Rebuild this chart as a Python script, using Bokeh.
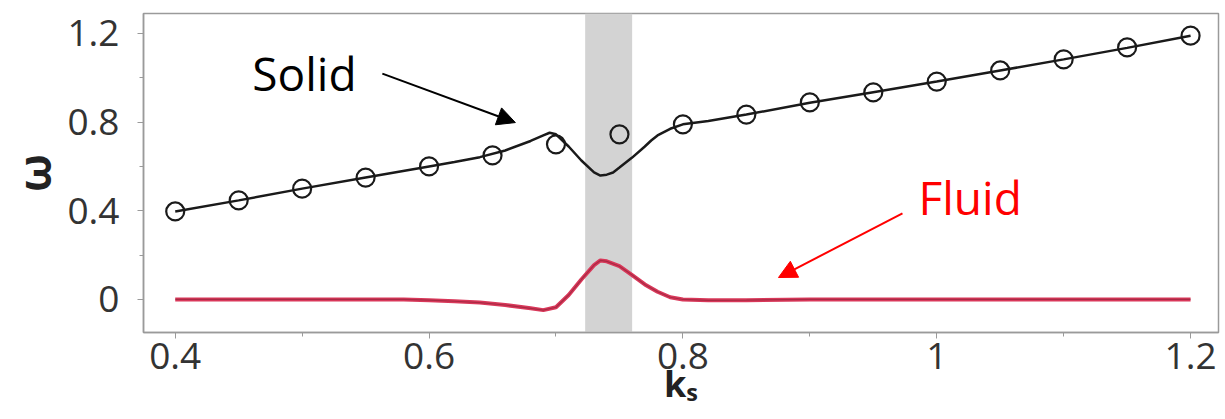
from bokeh.plotting import figure
from bokeh.models import (Range1d, BoxAnnotation, Label, Arrow, NormalHead,
                          SingleIntervalTicker, NumeralTickFormatter)
from bokeh.embed import file_html
from bokeh.resources import INLINE

# ---- data ----
# continuous solid-branch curve
solid_k = [0.40, 0.45, 0.50, 0.55, 0.60, 0.62, 0.64, 0.66, 0.68, 0.69, 0.695, 0.70,
           0.71, 0.72, 0.73, 0.735, 0.74, 0.745, 0.75, 0.76, 0.77, 0.775, 0.78, 0.79,
           0.80, 0.82, 0.85, 0.90, 0.95, 1.00, 1.05, 1.10, 1.15, 1.20]
solid_w = [0.397, 0.447, 0.500, 0.550, 0.600, 0.620, 0.642, 0.672, 0.715, 0.740, 0.752, 0.745,
           0.690, 0.627, 0.573, 0.559, 0.563, 0.573, 0.595, 0.640, 0.690, 0.717, 0.740, 0.770,
           0.790, 0.805, 0.834, 0.887, 0.935, 0.983, 1.033, 1.083, 1.135, 1.190]

# circle markers
circle_k = [0.40, 0.45, 0.50, 0.55, 0.60, 0.65, 0.70, 0.75, 0.80, 0.85, 0.90, 0.95,
            1.00, 1.05, 1.10, 1.15, 1.20]
circle_w = [0.397, 0.447, 0.500, 0.550, 0.600, 0.650, 0.700, 0.745, 0.790, 0.834, 0.889,
            0.934, 0.983, 1.033, 1.083, 1.137, 1.190]

# fluid-branch curve
fluid_k = [0.40, 0.45, 0.50, 0.55, 0.58, 0.60, 0.62, 0.64, 0.66, 0.68, 0.69, 0.70,
           0.71, 0.72, 0.73, 0.735, 0.74, 0.75, 0.76, 0.77, 0.78, 0.79, 0.80, 0.82,
           0.85, 0.90, 1.00, 1.10, 1.20]
fluid_w = [0.000, 0.000, 0.000, 0.000, 0.000, -0.003, -0.008, -0.014, -0.025, -0.040, -0.048, -0.035,
           0.020, 0.090, 0.155, 0.176, 0.172, 0.150, 0.110, 0.068, 0.035, 0.010, 0.000, -0.004,
           -0.003, 0.000, 0.000, 0.000, 0.000]

band_k = [0.723, 0.760]

FONT = "Open Sans"
AXIS_COLOR = "#9a9a9a"

p = figure(width=1222, height=416, output_backend="svg", toolbar_location=None,
           x_range=Range1d(0.375, 1.222), y_range=Range1d(-0.149, 1.29),
           min_border_left=143, min_border_top=13, min_border_right=4, min_border_bottom=84)

p.xgrid.visible = False
p.ygrid.visible = False
p.outline_line_color = AXIS_COLOR
p.outline_line_width = 1.5
p.background_fill_color = "white"
p.border_fill_color = "white"

# shaded band
p.add_layout(BoxAnnotation(left=band_k[0], right=band_k[1], fill_color="#d3d3d3",
                           fill_alpha=1.0, line_color=None, level="underlay"))

# solid curve + markers
p.line(solid_k, solid_w, line_color="#1a1a1a", line_width=2.5)
p.scatter(circle_k, circle_w, marker="circle", size=18, fill_color=None,
          line_color="#1a1a1a", line_width=2.2)

# fluid curve
p.line(fluid_k, fluid_w, line_color="#d9385a", line_width=4)
p.line(fluid_k, fluid_w, line_color="#6e1a2a", line_width=1.2, line_alpha=0.45)

# axes
for ax in (p.xaxis[0], p.yaxis[0]):
    ax.axis_line_color = AXIS_COLOR
    ax.axis_line_width = 1.5
    ax.major_tick_line_color = AXIS_COLOR
    ax.minor_tick_line_color = AXIS_COLOR
    ax.major_tick_out = 6
    ax.major_tick_in = 0
    ax.minor_tick_out = 4
    ax.minor_tick_in = 0
    ax.major_label_text_font = FONT
    ax.major_label_text_font_size = "37px"
    ax.major_label_text_color = "#333333"
    ax.axis_label_text_font = FONT
    ax.axis_label_text_font_style = "bold"
    ax.axis_label_text_color = "#222222"
    ax.formatter = NumeralTickFormatter(format="0.[0]")

p.xaxis[0].ticker = SingleIntervalTicker(interval=0.2, num_minor_ticks=2)
p.yaxis[0].ticker = SingleIntervalTicker(interval=0.4, num_minor_ticks=2)
p.xaxis[0].major_label_standoff = 4
p.xaxis[0].axis_label = "kₛ"
p.xaxis[0].axis_label_text_font_size = "36px"
p.xaxis[0].axis_label_standoff = -13
p.yaxis[0].major_label_standoff = 18
p.yaxis[0].axis_label = "ω"
p.yaxis[0].axis_label_text_font_size = "44px"
p.yaxis[0].axis_label_standoff = 0

# annotations
p.add_layout(Label(x=0.4607, y=1.022, text="Solid", text_font=FONT, text_font_size="46px",
                   text_color="black", text_baseline="alphabetic"))
p.add_layout(Arrow(x_start=0.5632, y_start=1.019, x_end=0.668, y_end=0.798,
                   line_color="black", line_width=2,
                   end=NormalHead(size=18, fill_color="black", line_color="black")))
p.add_layout(Label(x=0.9856, y=0.462, text="Fluid", text_font=FONT, text_font_size="46px",
                   text_color="#ff0000", text_baseline="alphabetic"))
p.add_layout(Arrow(x_start=0.973, y_start=0.388, x_end=0.8753, y_end=0.099,
                   line_color="#ff0000", line_width=2,
                   end=NormalHead(size=18, fill_color="#ff0000", line_color="#ff0000")))

open("out.html", "w").write(file_html(p, INLINE))
